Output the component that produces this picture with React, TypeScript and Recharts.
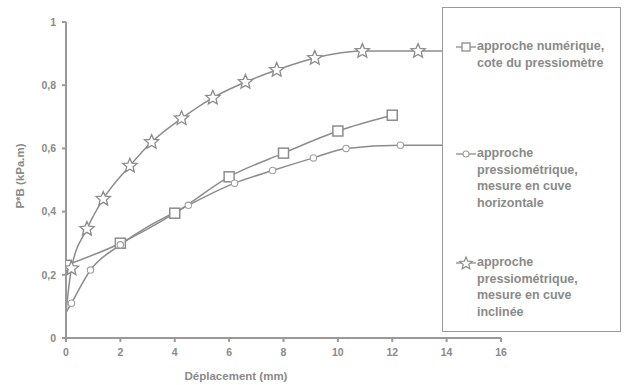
import React from "react";
import { LineChart, Line, XAxis, YAxis } from "recharts";

// approche numérique, cote du pressiomètre
const numX = [0, 2, 4, 6, 8, 10, 12];
const numY = [0.23, 0.3, 0.395, 0.51, 0.585, 0.655, 0.705];

// approche pressiométrique, mesure en cuve horizontale
const horX = [0, 0.2, 0.9, 2, 4.5, 6.2, 7.6, 9.1, 10.3, 12.3, 14.5];
const horY = [0.08, 0.11, 0.215, 0.295, 0.42, 0.49, 0.53, 0.57, 0.6, 0.61, 0.61];

// approche pressiométrique, mesure en cuve inclinée
const incX = [0, 0.2, 0.77, 1.37, 2.35, 3.15, 4.25, 5.4, 6.6, 7.75, 9.15, 10.9, 12.95, 14.5];
const incY = [0.08, 0.22, 0.345, 0.44, 0.545, 0.62, 0.695, 0.76, 0.81, 0.848, 0.886, 0.908, 0.908, 0.908];

const xTicks = [0, 2, 4, 6, 8, 10, 12, 14, 16];
const yTicks = [0, 0.2, 0.4, 0.6, 0.8, 1];

const legendLabels = [
  ["approche numérique,", "cote du pressiomètre"],
  ["approche", "pressiométrique,", "mesure en cuve", "horizontale"],
  ["approche", "pressiométrique,", "mesure en cuve", "inclinée"],
];

const GREY = "#8c8c8c";
const TEXT = "#8a8a8a";
const FONT = "'Liberation Sans', Arial, sans-serif";

const toRows = (xs: number[], ys: number[]) => xs.map((x, i) => ({ x, y: ys[i] }));

const numData = toRows(numX, numY);
const horData = toRows(horX, horY);
const incData = toRows(incX, incY);

const starPath = (cx: number, cy: number, r: number) => {
  const pts: string[] = [];
  for (let i = 0; i < 10; i++) {
    const rad = i % 2 === 0 ? r : r * 0.45;
    const a = -Math.PI / 2 + (i * Math.PI) / 5;
    pts.push(`${(cx + rad * Math.cos(a)).toFixed(2)},${(cy + rad * Math.sin(a)).toFixed(2)}`);
  }
  return "M" + pts.join("L") + "Z";
};

const SquareDot = (p: any) => (
  <rect key={`sq-${p.index}`} x={p.cx - 5} y={p.cy - 5} width={10} height={10}
    fill="#fff" stroke={GREY} strokeWidth={1.5} />
);

const CircleDot = (p: any) =>
  p.index === 0 ? <g key={`c-${p.index}`} /> : (
    <circle key={`c-${p.index}`} cx={p.cx} cy={p.cy} r={3.2} fill="#fff" stroke="#a0a0a0" strokeWidth={1.1} />
  );

const StarDot = (p: any) =>
  p.index === 0 ? <g key={`s-${p.index}`} /> : (
    <path key={`s-${p.index}`} d={starPath(p.cx, p.cy, 7.5)} fill="#fff" stroke={GREY} strokeWidth={1.3} />
  );

const fmtY = (v: number) => (v === 0 || v === 1 ? String(v) : v.toFixed(1).replace(".", ","));

const LegendIcon = ({ kind }: { kind: number }) => (
  <svg width={24} height={16} style={{ position: "absolute", left: 11, top: 1 }}>
    <line x1={2} y1={8} x2={22} y2={8} stroke={GREY} strokeWidth={1.3} />
    {kind === 0 && <rect x={8} y={4} width={8} height={8} fill="#fff" stroke={GREY} strokeWidth={1.3} />}
    {kind === 1 && <circle cx={12} cy={8} r={3} fill="#fff" stroke="#a0a0a0" strokeWidth={1.1} />}
    {kind === 2 && <path d={starPath(12, 8.5, 6.5)} fill="#fff" stroke={GREY} strokeWidth={1.2} />}
  </svg>
);

const legendTops = [30, 137, 246];

export default function App() {
  return (
    <div style={{ position: "absolute", left: 0, top: 0, width: 627, height: 385, background: "#fff", fontFamily: FONT }}>
      <LineChart width={627} height={385} margin={{ top: 22, right: 126, bottom: 17, left: 26 }}>
        <XAxis
          type="number"
          dataKey="x"
          domain={[0, 16]}
          ticks={xTicks}
          interval={0}
          height={30}
          stroke="#999"
          strokeWidth={2}
          tickSize={4}
          tickMargin={7}
          tick={{ fill: TEXT, fontSize: 10.5, fontWeight: 700, fontFamily: FONT }}
          allowDataOverflow
        />
        <YAxis
          type="number"
          domain={[0, 1]}
          ticks={yTicks}
          interval={0}
          width={40}
          stroke="#999"
          strokeWidth={2}
          tickSize={4}
          tickMargin={6}
          tickFormatter={fmtY}
          tick={{ fill: TEXT, fontSize: 10.5, fontWeight: 700, fontFamily: FONT }}
        />
        <Line data={numData} dataKey="y" type="monotone" stroke={GREY} strokeWidth={1.5}
          dot={SquareDot} activeDot={false} isAnimationActive={false} />
        <Line data={horData} dataKey="y" type="monotone" stroke={GREY} strokeWidth={1.5}
          dot={CircleDot} activeDot={false} isAnimationActive={false} />
        <Line data={incData} dataKey="y" type="monotone" stroke={GREY} strokeWidth={1.5}
          dot={StarDot} activeDot={false} isAnimationActive={false} />
        <text x={236} y={380} textAnchor="middle" fill={TEXT} fontSize={11.5} fontWeight={700} fontFamily={FONT}>
          Déplacement (mm)
        </text>
        <text x={0} y={0} transform="translate(24,176) rotate(-90)" textAnchor="middle" fill={TEXT}
          fontSize={11.5} fontWeight={700} fontFamily={FONT}>
          P*B (kPa.m)
        </text>
      </LineChart>
      <div
        style={{
          position: "absolute",
          left: 442,
          top: 7,
          width: 179,
          height: 325,
          background: "#fff",
          border: "1.5px solid #999",
          boxSizing: "border-box",
        }}
      >
        {legendLabels.map((lines, i) => (
          <div key={i} style={{ position: "absolute", left: 0, top: legendTops[i], width: 178 }}>
            <LegendIcon kind={i} />
            <div style={{ marginLeft: 34, color: TEXT, fontSize: 12.5, fontWeight: 700, lineHeight: "16.5px" }}>
              {lines.map((l, j) => (
                <div key={j}>{l}</div>
              ))}
            </div>
          </div>
        ))}
      </div>
    </div>
  );
}
